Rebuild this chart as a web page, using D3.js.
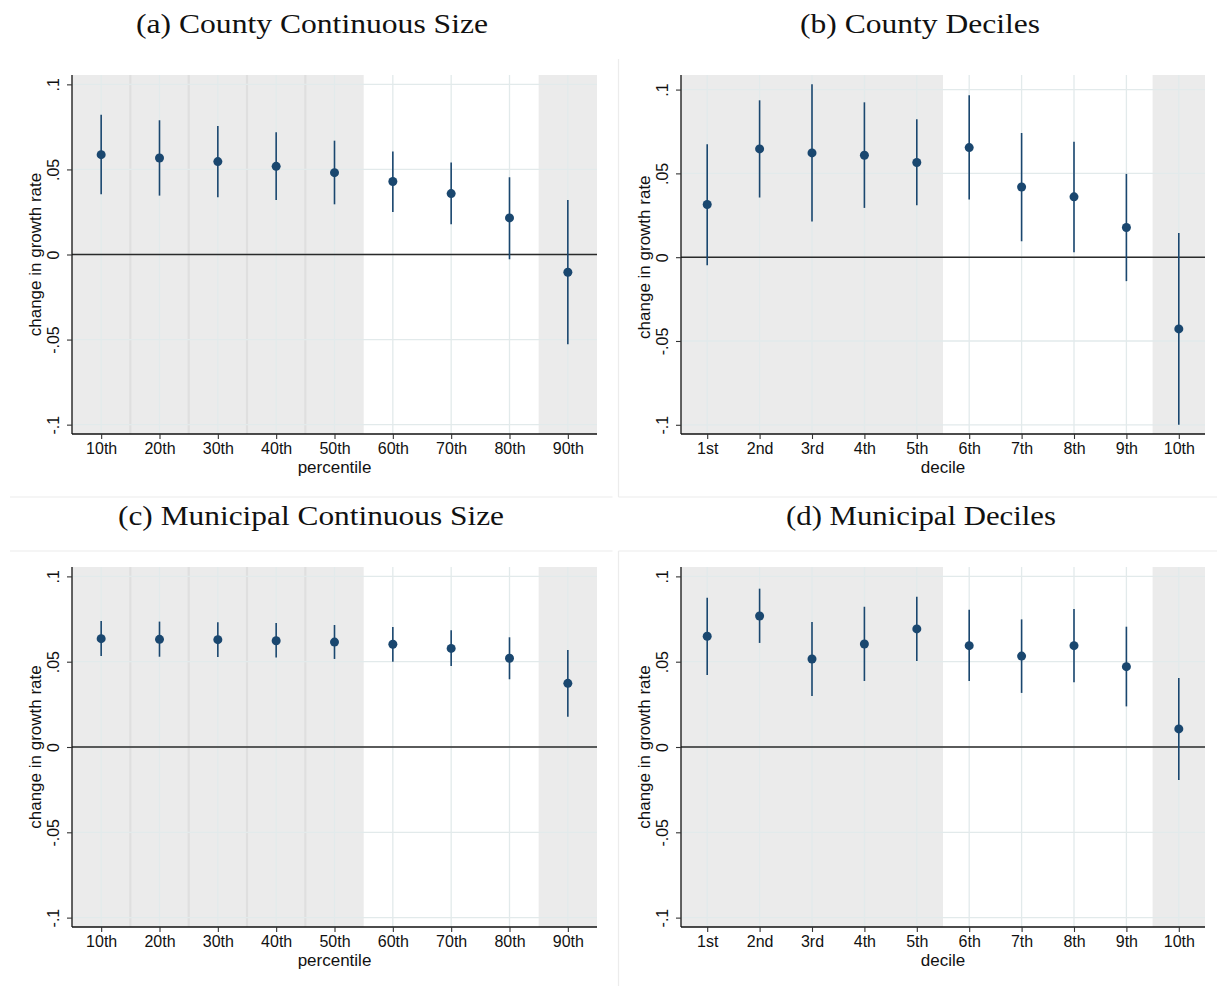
<!DOCTYPE html>
<html>
<head>
<meta charset="utf-8">
<script src="https://cdn.jsdelivr.net/npm/d3@7"></script>
<style>
  html, body { margin: 0; padding: 0; background: #fff; }
  svg { display: block; }
</style>
</head>
<body>
<svg id="chart" width="1217" height="986"></svg>
<script>
// ---------- data ----------
const percentileLabels = ["10th", "20th", "30th", "40th", "50th", "60th", "70th", "80th", "90th"];
const decileLabels = ["1st", "2nd", "3rd", "4th", "5th", "6th", "7th", "8th", "9th", "10th"];

const yTickValues = [-0.1, -0.05, 0, 0.05, 0.1];
const yTickLabels = ["-.1", "-.05", "0", ".05", ".1"];

// (a) County continuous size
const countyContEst = [0.0587, 0.0567, 0.0546, 0.0518, 0.0481, 0.0429, 0.0358, 0.0215, -0.0104];
const countyContLo  = [0.0354, 0.0346, 0.0336, 0.0321, 0.0295, 0.0250, 0.0178, -0.0028, -0.0527];
const countyContHi  = [0.0822, 0.0789, 0.0755, 0.0718, 0.0669, 0.0605, 0.0540, 0.0454, 0.0321];

// (b) County deciles
const countyDecEst = [0.0314, 0.0646, 0.0622, 0.0608, 0.0565, 0.0654, 0.0419, 0.0360, 0.0177, -0.0428];
const countyDecLo  = [-0.0048, 0.0356, 0.0213, 0.0294, 0.0310, 0.0344, 0.0095, 0.0030, -0.0143, -0.1000];
const countyDecHi  = [0.0674, 0.0936, 0.1032, 0.0924, 0.0823, 0.0966, 0.0741, 0.0688, 0.0497, 0.0145];

// (c) Municipal continuous size
const muniContEst = [0.0635, 0.0631, 0.0629, 0.0623, 0.0615, 0.0602, 0.0578, 0.0520, 0.0373];
const muniContLo  = [0.0533, 0.0529, 0.0528, 0.0524, 0.0516, 0.0500, 0.0475, 0.0397, 0.0178];
const muniContHi  = [0.0739, 0.0735, 0.0731, 0.0727, 0.0715, 0.0703, 0.0684, 0.0643, 0.0569];

// (d) Municipal deciles
const muniDecEst = [0.0649, 0.0768, 0.0516, 0.0604, 0.0692, 0.0594, 0.0533, 0.0594, 0.0471, 0.0106];
const muniDecLo  = [0.0422, 0.0610, 0.0299, 0.0387, 0.0504, 0.0387, 0.0317, 0.0379, 0.0238, -0.0193];
const muniDecHi  = [0.0875, 0.0928, 0.0733, 0.0822, 0.0881, 0.0805, 0.0748, 0.0809, 0.0705, 0.0404];

// shaded category ranges (first, last category index, 1-based)
const shadeContinuous = [[1, 1], [2, 2], [3, 3], [4, 4], [5, 5], [9, 9]];
const shadeDeciles = [[1, 5], [10, 10]];

const titles = ["(a) County Continuous Size", "(b) County Deciles", "(c) Municipal Continuous Size", "(d) Municipal Deciles"];
const titleWidths = [352, 240, 386, 270];

// ---------- layout ----------
const panels = [
  { title: titles[0], tw: titleWidths[0], cats: percentileLabels, est: countyContEst, lo: countyContLo, hi: countyContHi,
    shade: shadeContinuous, xTitle: "percentile", x0: 72, x1: 597, y0: 75, y1: 434, yDom: [-0.1055, 0.1055], tx: 312, ty: 33 },
  { title: titles[1], tw: titleWidths[1], cats: decileLabels, est: countyDecEst, lo: countyDecLo, hi: countyDecHi,
    shade: shadeDeciles, xTitle: "decile", x0: 681, x1: 1205, y0: 75, y1: 434, yDom: [-0.1055, 0.1087], tx: 920, ty: 33 },
  { title: titles[2], tw: titleWidths[2], cats: percentileLabels, est: muniContEst, lo: muniContLo, hi: muniContHi,
    shade: shadeContinuous, xTitle: "percentile", x0: 72, x1: 597, y0: 567, y1: 927, yDom: [-0.1055, 0.1055], tx: 311, ty: 525 },
  { title: titles[3], tw: titleWidths[3], cats: decileLabels, est: muniDecEst, lo: muniDecLo, hi: muniDecHi,
    shade: shadeDeciles, xTitle: "decile", x0: 681, x1: 1205, y0: 567, y1: 927, yDom: [-0.1055, 0.1055], tx: 921, ty: 525 }
];

const svg = d3.select("#chart");
const navy = "#1a476f";
const shadeFill = "#ebebeb";
const gridColor = "#e2eaeb";
const sans = "Liberation Sans, Arial, sans-serif";

// frame separator lines
const sep = svg.append("g").attr("stroke", "#ececec").attr("stroke-width", 1.2);
sep.append("line").attr("x1", 618.5).attr("x2", 618.5).attr("y1", 59).attr("y2", 497);
sep.append("line").attr("x1", 10).attr("x2", 612.5).attr("y1", 497).attr("y2", 497);
sep.append("line").attr("x1", 618.5).attr("x2", 1217).attr("y1", 497).attr("y2", 497);
sep.append("line").attr("x1", 10).attr("x2", 612.5).attr("y1", 551).attr("y2", 551);
sep.append("line").attr("x1", 618.5).attr("x2", 1217).attr("y1", 551).attr("y2", 551);
sep.append("line").attr("x1", 618.5).attr("x2", 618.5).attr("y1", 551).attr("y2", 986);

panels.forEach(p => {
  const n = p.cats.length;
  const x = d3.scaleLinear().domain([0.5, n + 0.5]).range([p.x0, p.x1]);
  const y = d3.scaleLinear().domain(p.yDom).range([p.y1, p.y0]);
  const g = svg.append("g");
  const idx = d3.range(1, n + 1);

  // shading
  g.selectAll("rect.shade").data(p.shade).join("rect")
    .attr("class", "shade")
    .attr("x", d => x(d[0] - 0.5))
    .attr("width", d => x(d[1] + 0.5) - x(d[0] - 0.5))
    .attr("y", p.y0).attr("height", p.y1 - p.y0)
    .attr("fill", shadeFill);
  // darker seams between adjacent shaded blocks
  const seams = [];
  for (let i = 0; i < p.shade.length - 1; i++) {
    if (p.shade[i][1] + 1 === p.shade[i + 1][0]) seams.push(p.shade[i][1] + 0.5);
  }
  g.selectAll("line.seam").data(seams).join("line")
    .attr("class", "seam")
    .attr("x1", d => x(d)).attr("x2", d => x(d))
    .attr("y1", p.y0).attr("y2", p.y1)
    .attr("stroke", "#dfdfdf").attr("stroke-width", 2.2);

  // gridlines
  g.selectAll("line.hgrid").data(yTickValues).join("line")
    .attr("class", "hgrid")
    .attr("x1", p.x0).attr("x2", p.x1)
    .attr("y1", d => y(d)).attr("y2", d => y(d))
    .attr("stroke", gridColor).attr("stroke-width", 1.3);
  g.selectAll("line.vgrid").data(idx).join("line")
    .attr("class", "vgrid")
    .attr("x1", d => x(d)).attr("x2", d => x(d))
    .attr("y1", p.y0).attr("y2", p.y1)
    .attr("stroke", gridColor).attr("stroke-width", 1.3);

  // zero line
  g.append("line")
    .attr("x1", p.x0).attr("x2", p.x1)
    .attr("y1", y(0)).attr("y2", y(0))
    .attr("stroke", "#2a2a2a").attr("stroke-width", 1.4);

  // CIs
  g.selectAll("line.ci").data(idx).join("line")
    .attr("class", "ci")
    .attr("x1", d => x(d)).attr("x2", d => x(d))
    .attr("y1", d => y(p.lo[d - 1])).attr("y2", d => y(p.hi[d - 1]))
    .attr("stroke", navy).attr("stroke-width", 1.6);

  // points
  g.selectAll("circle.pt").data(idx).join("circle")
    .attr("class", "pt")
    .attr("cx", d => x(d)).attr("cy", d => y(p.est[d - 1]))
    .attr("r", 4.5).attr("fill", navy);

  // axes
  const yAxis = d3.axisLeft(y).tickValues(yTickValues)
    .tickFormat((d, i) => yTickLabels[i]).tickSize(5).tickPadding(7);
  const ya = g.append("g").attr("transform", `translate(${p.x0},0)`).call(yAxis);
  ya.select(".domain").attr("d", `M0,${p.y0}V${p.y1}`).attr("stroke", "#111").attr("stroke-width", 1.3);
  ya.selectAll(".tick line").attr("stroke", "#333").attr("stroke-width", 1.1);
  ya.selectAll(".tick text")
    .attr("transform", "rotate(-90)")
    .attr("x", 0).attr("y", -13)
    .attr("dy", 0)
    .attr("text-anchor", "middle")
    .attr("font-family", sans)
    .attr("font-size", 16).attr("fill", "#111");

  const xAxis = d3.axisBottom(x).tickValues(idx)
    .tickFormat(d => p.cats[d - 1]).tickSize(5).tickPadding(4);
  const xa = g.append("g").attr("transform", `translate(0,${p.y1})`).call(xAxis);
  xa.select(".domain").attr("d", `M${p.x0},0H${p.x1}`).attr("stroke", "#111").attr("stroke-width", 1.3);
  xa.selectAll(".tick line").attr("stroke", "#333").attr("stroke-width", 1.1);
  xa.selectAll(".tick text")
    .attr("font-family", sans)
    .attr("font-size", 16).attr("fill", "#111");

  // axis titles
  g.append("text")
    .attr("x", (p.x0 + p.x1) / 2).attr("y", p.y1 + 39)
    .attr("text-anchor", "middle")
    .attr("font-family", sans)
    .attr("font-size", 17).attr("fill", "#111")
    .text(p.xTitle);
  g.append("text")
    .attr("transform", `translate(${p.x0 - 31},${y(0)}) rotate(-90)`)
    .attr("text-anchor", "middle")
    .attr("font-family", sans)
    .attr("font-size", 17).attr("fill", "#111")
    .text("change in growth rate");

  // panel title
  svg.append("text")
    .attr("x", p.tx).attr("y", p.ty)
    .attr("text-anchor", "middle")
    .attr("font-family", "Liberation Serif, DejaVu Serif, serif")
    .attr("font-size", 27).attr("fill", "#111")
    .attr("textLength", p.tw).attr("lengthAdjust", "spacingAndGlyphs")
    .text(p.title);
});
</script>
</body>
</html>
